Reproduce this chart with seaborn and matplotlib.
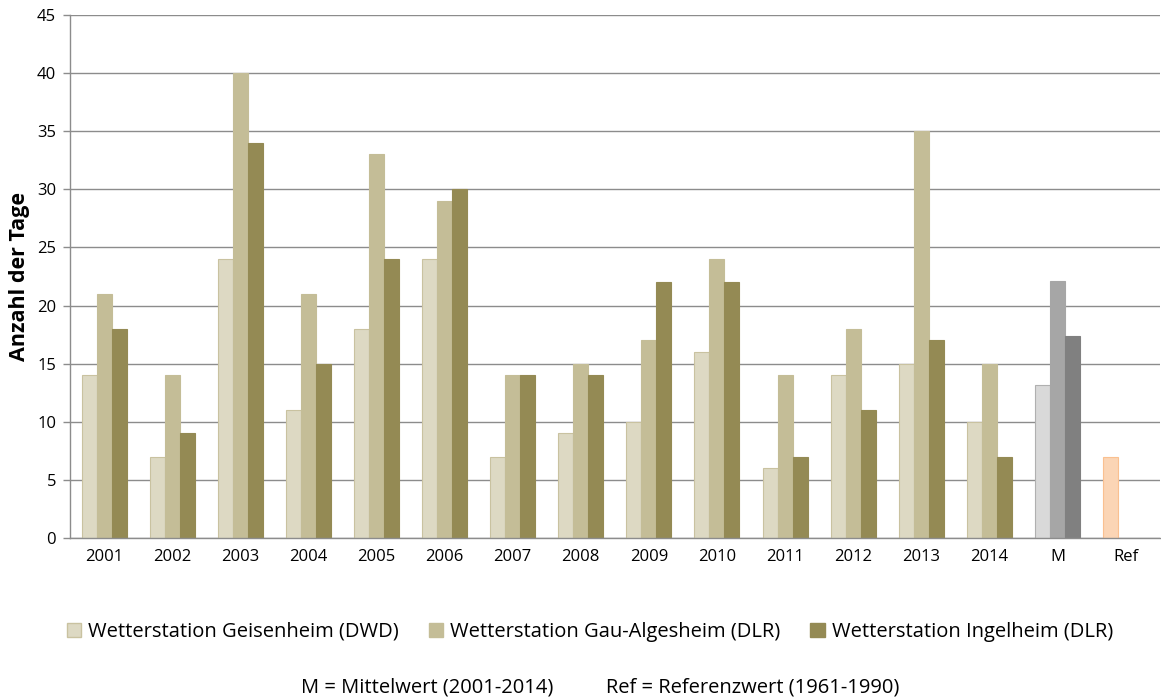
import numpy as np
import pandas as pd
import matplotlib
matplotlib.use("Agg")
import matplotlib.pyplot as plt
import matplotlib.patches as mpatches
import seaborn as sns

categories = ["2001", "2002", "2003", "2004", "2005", "2006", "2007", "2008",
              "2009", "2010", "2011", "2012", "2013", "2014", "M", "Ref"]
stations = ["Wetterstation Geisenheim (DWD)",
            "Wetterstation Gau-Algesheim (DLR)",
            "Wetterstation Ingelheim (DLR)"]
geisenheim = [14, 7, 24, 11, 18, 24, 7, 9, 10, 16, 6, 14, 15, 10, 13.2, 7]
gau_algesheim = [21, 14, 40, 21, 33, 29, 14, 15, 17, 24, 14, 18, 35, 15, 22.1, np.nan]
ingelheim = [18, 9, 34, 15, 24, 30, 14, 14, 22, 22, 7, 11, 17, 7, 17.4, np.nan]

colors = ["#DDD9C3", "#C4BD97", "#948A54"]
edges = ["#C9C2A0", "#C4BD97", "#948A54"]
mean_colors = ["#D9D9D9", "#A6A6A6", "#808080"]
ref_color = "#FBD5B5"

rows = []
for name, vals in zip(stations, [geisenheim, gau_algesheim, ingelheim]):
    for c, v in zip(categories, vals):
        rows.append({"Jahr": c, "Station": name, "Tage": v})
df = pd.DataFrame(rows)

sns.set_style("white")
plt.rcParams["font.family"] = ["Open Sans", "DejaVu Sans"]
plt.rcParams["text.color"] = "black"
plt.rcParams["axes.labelcolor"] = "black"
plt.rcParams["xtick.labelcolor"] = "black"
plt.rcParams["ytick.labelcolor"] = "black"

fig = plt.figure(figsize=(11.61, 6.97), dpi=100)
ax = fig.add_axes([0.0603, 0.228, 0.9385, 0.7505])

sns.barplot(data=df, x="Jahr", y="Tage", hue="Station", order=categories,
            hue_order=stations, palette=colors, width=0.66, ax=ax,
            legend=False, saturation=1, errorbar=None)

for i, cont in enumerate(ax.containers):
    for bar in cont:
        idx = int(round(bar.get_x() + bar.get_width() / 2))
        bar.set_edgecolor(edges[i])
        bar.set_linewidth(0.8)
        if categories[idx] == "M":
            bar.set_facecolor(mean_colors[i])
            bar.set_edgecolor("#B0B0B0" if i == 0 else mean_colors[i])
        elif categories[idx] == "Ref":
            bar.set_facecolor(ref_color)
            bar.set_edgecolor("#FAC090")

ax.set_ylim(0, 45)
ax.set_xlim(-0.5, len(categories) - 0.5)
ax.set_yticks(np.arange(0, 46, 5))
ax.yaxis.grid(True, color="#8C8C8C", linewidth=1)
ax.set_axisbelow(True)
for s in ["top", "right"]:
    ax.spines[s].set_visible(False)
for s in ["left", "bottom"]:
    ax.spines[s].set_color("#8C8C8C")
    ax.spines[s].set_linewidth(1)

ax.set_xticks(np.arange(len(categories)))
ax.set_xticklabels(categories)
ax.set_xticks(np.arange(-0.5, len(categories), 1), minor=True)
ax.tick_params(axis="x", which="major", length=0, labelsize=12, pad=8)
ax.tick_params(axis="x", which="minor", length=5, color="#8C8C8C", width=1)
ax.tick_params(axis="y", which="major", length=5, color="#8C8C8C", width=1,
               labelsize=12, pad=5, left=True)
ax.set_xlabel("")
ax.set_ylabel("Anzahl der Tage", fontsize=15.5, fontweight="bold", labelpad=5)

handles = [mpatches.Patch(facecolor=c, edgecolor=e, label=s)
           for c, e, s in zip(colors, edges, stations)]
fig.legend(handles=handles, loc="center", bbox_to_anchor=(0.508, 1 - 632 / 697),
           ncol=3, frameon=False, fontsize=14.5, handlelength=0.7,
           handleheight=0.7, handletextpad=0.35, columnspacing=1.5)

fig.text(0.517, 1 - 688 / 697,
         "M = Mittelwert (2001-2014)          Ref = Referenzwert (1961-1990)",
         ha="center", va="center", fontsize=14.5)

fig.savefig("out.png", dpi=100)
